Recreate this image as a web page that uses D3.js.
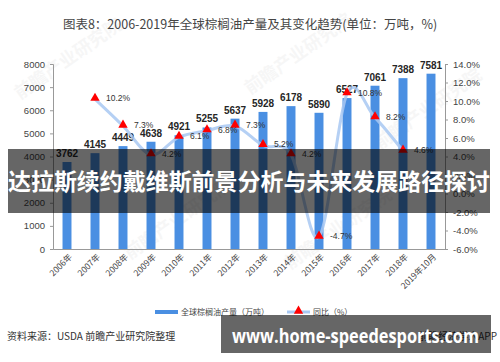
<!DOCTYPE html>
<html>
<head>
<meta charset="utf-8">
<script src="https://cdn.jsdelivr.net/npm/d3@7/dist/d3.min.js"></script>
<style>
  body { margin: 0; background: #fff; }
  svg { display: block; font-family: "Liberation Sans", "Noto Sans CJK SC", sans-serif; }
</style>
</head>
<body>
<svg id="chart" width="500" height="362"></svg>
<script>
let years = ["2006年", "2007年", "2008年", "2009年", "2010年", "2011年", "2012年", "2013年", "2014年", "2015年", "2016年", "2017年", "2018年", "2019年10月"]
let production = [3762, 4145, 4449, 4638, 4921, 5255, 5637, 5928, 6178, 5890, 6527, 7061, 7388, 7581]
let growth = [null, 10.2, 7.3, 4.2, 6.1, 6.8, 7.3, 5.2, 4.2, -4.7, 10.8, 8.2, 4.6, null]
let leftTicks = [0, 1000, 2000, 3000, 4000, 5000, 6000, 7000, 8000]
let rightTicks = [-6, -4, -2, 0, 2, 4, 6, 8, 10, 12, 14]

let svg = d3.select('#chart')
let cjk = '"Noto Sans CJK SC", "Liberation Sans", sans-serif'

let x = d3.scaleBand().domain(years).range([53, 445]).paddingInner(0.68).paddingOuter(0.34)
let yL = d3.scaleLinear().domain([0, 8000]).range([249, 64])
let yR = d3.scaleLinear().domain([-6, 14]).range([249, 64])

// faint watermarks
let marks = [[20, 100], [250, 95], [130, 260], [290, 270], [380, 150]]
marks.forEach(function (m) {
    svg.append("text")
        .attr("transform", "translate(" + m[0] + "," + m[1] + ") rotate(-35)")
        .text("前瞻产业研究院")
        .style("font-family", cjk)
        .style("font-size", "18px")
        .style("font-weight", "bold")
        .style("fill", "#000")
        .style("opacity", 0.03)
})

// title
svg.append("text")
    .attr("x", 250).attr("y", 29)
    .attr("text-anchor", "middle")
    .text("图表8：2006-2019年全球棕榈油产量及其变化趋势(单位：万吨，%)")
    .style("font-family", cjk)
    .style("font-size", "12.5px")
    .style("fill", "#444")

// axes
let axL = svg.append("g").attr("transform", "translate(53,0)")
    .call(d3.axisLeft(yL).tickValues(leftTicks).tickSize(3).tickPadding(5).tickFormat(d3.format("d")))
let axR = svg.append("g").attr("transform", "translate(445,0)")
    .call(d3.axisRight(yR).tickValues(rightTicks).tickSize(3).tickPadding(5).tickFormat(d => d.toFixed(1) + "%"))
let axB = svg.append("g").attr("transform", "translate(0,249)")
    .call(d3.axisBottom(x).tickSize(0).tickPadding(6))

;[axL, axR, axB].forEach(function (a) {
    a.select(".domain").attr("stroke", "#999")
    a.selectAll(".tick line").attr("stroke", "#999")
    a.selectAll("text").style("font-size", "9.5px").style("fill", "#444")
})
axB.selectAll(".tick text")
    .attr("text-anchor", "end")
    .attr("dx", "-2")
    .attr("dy", "4")
    .attr("transform", "rotate(-45)")
    .style("font-family", cjk)
    .style("font-size", "8.5px")

// bars
svg.append("g").selectAll("rect")
    .data(production)
    .join("rect")
    .attr("x", (d, i) => x(years[i]))
    .attr("y", d => yL(d))
    .attr("width", x.bandwidth())
    .attr("height", d => yL(0) - yL(d))
    .attr("fill", "#4a8fe2")

svg.append("g").selectAll("text")
    .data(production)
    .join("text")
    .attr("x", (d, i) => x(years[i]) + x.bandwidth() / 2)
    .attr("y", d => yL(d) - 5)
    .attr("text-anchor", "middle")
    .text(d => d)
    .style("font-size", "10px")
    .style("font-weight", "bold")
    .style("fill", "#262626")

// growth line
let pts = growth.map((g, i) => ({ x: x(years[i]) + x.bandwidth() / 2, v: g })).filter(p => p.v !== null)
let line = d3.line().x(p => p.x).y(p => yR(p.v)).curve(d3.curveCardinal.tension(0))
svg.append("path")
    .attr("d", line(pts))
    .attr("fill", "none")
    .attr("stroke", "#a8c8f2")
    .attr("stroke-width", 3)
    .attr("opacity", 0.85)

let tri = d3.symbol().type(d3.symbolTriangle).size(38)
svg.append("g").selectAll("path")
    .data(pts)
    .join("path")
    .attr("transform", p => "translate(" + p.x + "," + (yR(p.v) - 1) + ")")
    .attr("d", tri)
    .attr("fill", "#ff0000")

svg.append("g").selectAll("text")
    .data(pts)
    .join("text")
    .attr("x", p => p.x + 11)
    .attr("y", p => yR(p.v) + 2)
    .text(p => p.v.toFixed(1) + "%")
    .style("font-size", "8.5px")
    .style("fill", "#333")

// legend
svg.append("rect").attr("x", 155).attr("y", 310).attr("width", 23).attr("height", 4).attr("fill", "#4a8fe2")
svg.append("text").attr("x", 181).attr("y", 315).text("全球棕榈油产量（万吨）")
    .style("font-family", cjk).style("font-size", "8px").style("fill", "#444")
svg.append("line").attr("x1", 287).attr("x2", 310).attr("y1", 312).attr("y2", 312)
    .attr("stroke", "#a8c8f2").attr("stroke-width", 3)
svg.append("path").attr("transform", "translate(298.5,311)").attr("d", tri).attr("fill", "#ff0000")
svg.append("text").attr("x", 313).attr("y", 315).text("同比（%）")
    .style("font-family", cjk).style("font-size", "8px").style("fill", "#444")

// source
svg.append("text").attr("x", 7).attr("y", 340).text("资料来源：USDA 前瞻产业研究院整理")
    .style("font-family", cjk).style("font-size", "10px").style("fill", "#333")
svg.append("text").attr("x", 497).attr("y", 340).attr("text-anchor", "end").text("前瞻经济学人APP")
    .style("font-family", cjk).style("font-size", "10px").style("fill", "#333")

// overlay bands
svg.append("rect").attr("x", 8).attr("y", 149).attr("width", 482).attr("height", 64)
    .attr("fill", "#000").attr("opacity", 0.6)
svg.append("text").attr("x", 249).attr("y", 190).attr("text-anchor", "middle")
    .text("达拉斯续约戴维斯前景分析与未来发展路径探讨")
    .attr("textLength", 482).attr("lengthAdjust", "spacingAndGlyphs")
    .style("font-family", cjk).style("font-size", "23px").style("font-weight", "bold").style("fill", "#fff")

svg.append("rect").attr("x", 221).attr("y", 315).attr("width", 270).attr("height", 38)
    .attr("fill", "#000").attr("opacity", 0.6)
svg.append("text").attr("x", 232).attr("y", 343)
    .text("www.home-speedesports.com")
    .attr("textLength", 247).attr("lengthAdjust", "spacingAndGlyphs")
    .style("font-family", '"Open Sans", sans-serif').style("font-size", "19px").style("font-weight", "bold").style("fill", "#fff")
</script>
</body>
</html>
